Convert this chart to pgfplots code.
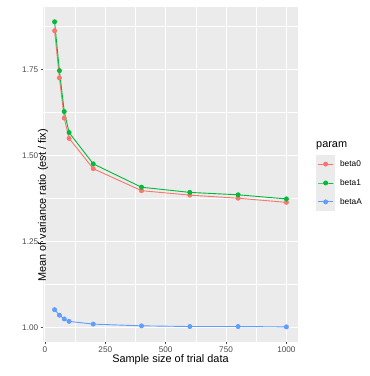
\documentclass[border=0pt]{standalone}
\usepackage{fontspec}
\setmainfont{Liberation Sans}
\usepackage{pgfplots}
\pgfplotsset{compat=1.18}
\definecolor{ggbg}{HTML}{EBEBEB}
\definecolor{ggred}{HTML}{F8766D}
\definecolor{gggreen}{HTML}{00BA38}
\definecolor{ggblue}{HTML}{619CFF}
\definecolor{ggtick}{HTML}{4D4D4D}
\begin{document}
\begin{tikzpicture}
\begin{axis}[
  name=ax,
  scale only axis,
  width=255pt, height=335pt,
  xmin=-8, xmax=1048, ymin=0.957, ymax=1.931,
  axis background/.style={fill=ggbg},
  axis line style={draw=none},
  xtick={0,250,500,750,1000},
  xticklabels={0,250,500,750,1000},
  ytick={1.00,1.25,1.50,1.75},
  minor xtick={125,375,625,875},
  minor ytick={1.125,1.375,1.625,1.875},
  yticklabels={1.00,1.25,1.50,1.75},
  grid=both,
  major grid style={white, line width=0.9pt},
  minor grid style={white, line width=0.45pt},
  tick align=outside,
  xtick pos=bottom, ytick pos=left,
  major tick length=2.3pt,
  minor tick length=0pt,
  major tick style={ggtick, line width=0.45pt},
  tick label style={font=\fontsize{8.2}{9}\selectfont, text=ggtick},
  /pgf/number format/assume math mode=true,
  xticklabel style={yshift=1pt},
  yticklabel style={xshift=1pt},
  xlabel={Sample size of trial data},
  ylabel={Mean of variance ratio (est / fix)},
  every axis x label/.style={at={(rel axis cs:0.5,0)}, anchor=center, yshift=-18pt, font=\fontsize{10.9}{12}\selectfont},
  every axis y label/.style={at={(rel axis cs:0,0.5)}, anchor=center, rotate=90, xshift=-31pt, font=\fontsize{10.9}{12}\selectfont},
  legend image code/.code={
    \fill[ggbg] (0pt,-9pt) rectangle (18pt,9pt);
    \draw[mark repeat=2,mark phase=2,#1] plot coordinates {(1.8pt,0pt) (9pt,0pt) (16.2pt,0pt)};
  },
  legend cell align=left,
  legend style={draw=none, fill=none, at={(1.0706,0.4746)}, anchor=west,
    inner sep=0pt, row sep=0pt, column sep=5pt,
    font=\fontsize{8.3}{9}\selectfont,
    nodes={inner sep=0pt}},
  every axis plot/.append style={line width=0.9pt, mark=*, mark size=2pt},
]
\addplot[ggred, mark options={fill=ggred, draw=ggred}] coordinates {
(40,1.862) (60,1.725) (80,1.608) (100,1.549) (200,1.461) (400,1.397) (600,1.384) (800,1.375) (1000,1.363)};
\addplot[gggreen, mark options={fill=gggreen, draw=gggreen}] coordinates {
(40,1.888) (60,1.746) (80,1.627) (100,1.566) (200,1.475) (400,1.407) (600,1.392) (800,1.385) (1000,1.373)};
\addplot[ggblue, mark options={fill=ggblue, draw=ggblue}] coordinates {
(40,1.051) (60,1.035) (80,1.024) (100,1.017) (200,1.009) (400,1.004) (600,1.002) (800,1.002) (1000,1.001)};
\legend{beta0,beta1,betaA}
\end{axis}
\node[anchor=west, font=\fontsize{10.9}{12}\selectfont, inner sep=0pt] at ([xshift=18pt,yshift=-139pt]ax.north east) {param};
\pgfresetboundingbox
\path[use as bounding box] ([xshift=-43pt,yshift=-34pt]ax.south west) rectangle ([xshift=72pt,yshift=7pt]ax.north east);
\end{tikzpicture}
\end{document}
